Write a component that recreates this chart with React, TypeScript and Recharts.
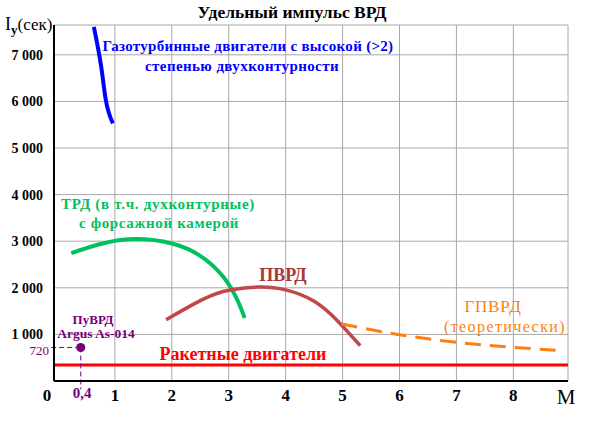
import { LineChart, Line, XAxis, YAxis, CartesianGrid, ReferenceLine, Scatter } from "recharts";

// Mach number M vs specific impulse Iу (s)
const turbofanHigh = [
  { x: 0.63, y: 7600 },
  { x: 0.76, y: 6740 },
  { x: 0.84, y: 6030 },
  { x: 0.965, y: 5530 },
];

const turbojetAb = [
  { x: 0.234, y: 2745 },
  { x: 0.8, y: 2955 },
  { x: 1.376, y: 3045 },
  { x: 2.0, y: 2950 },
  { x: 2.5, y: 2685 },
  { x: 2.9, y: 2240 },
  { x: 3.15, y: 1740 },
  { x: 3.28, y: 1352 },
];

const ramjet = [
  { x: 1.9, y: 1316 },
  { x: 2.4, y: 1660 },
  { x: 2.9, y: 1920 },
  { x: 3.5, y: 2015 },
  { x: 4.0, y: 1955 },
  { x: 4.5, y: 1712 },
  { x: 4.9, y: 1305 },
  { x: 5.31, y: 758 },
];

const scramjet = [
  { x: 4.98, y: 1223 },
  { x: 6.0, y: 994 },
  { x: 7.01, y: 829 },
  { x: 8.0, y: 722 },
  { x: 8.87, y: 651 },
];

const pulsejet = [{ x: 0.4, y: 720 }];
const rocketImpulse = 345;

const machTicks = [1, 2, 3, 4, 5, 6, 7, 8];
const impulseTicks = [1000, 2000, 3000, 4000, 5000, 6000, 7000];

const SERIF = "'Liberation Serif', serif";
const PURPLE = "#7a007a";

const fmtImpulse = (v: number) => `${Math.floor(v / 1000)} 000`;

const bold = { fontFamily: SERIF, fontWeight: 700 } as const;
const plain = { fontFamily: SERIF, fontWeight: 400 } as const;

export default function App() {
  return (
    <div style={{ position: "absolute", left: 0, top: 0, width: 600, height: 424, background: "#fff" }}>
      <LineChart
        width={600}
        height={424}
        margin={{ top: 25, right: 32, left: 0, bottom: 0 }}
        style={{ fontFamily: SERIF }}
      >
        <CartesianGrid stroke="#a8a8a8" strokeWidth={1} />
        <XAxis
          type="number"
          dataKey="x"
          domain={[-0.07, 8.96]}
          ticks={machTicks}
          height={43}
          tickSize={0}
          tickMargin={8}
          axisLine={{ stroke: "#000", strokeWidth: 2 }}
          tick={{ fill: "#000", fontSize: 17, style: bold }}
          allowDataOverflow
        />
        <XAxis xAxisId="top" type="number" orientation="top" domain={[-0.07, 8.96]} height={0} tick={false} tickLine={false} axisLine={{ stroke: "#000", strokeWidth: 2 }} />
        <YAxis
          type="number"
          dataKey="y"
          domain={[0, 7640]}
          ticks={impulseTicks}
          width={54}
          tickSize={0}
          tickMargin={11}
          tickFormatter={fmtImpulse}
          axisLine={{ stroke: "#000", strokeWidth: 2 }}
          tick={{ fill: "#000", fontSize: 14, style: bold }}
          allowDataOverflow
        />
        <YAxis yAxisId="right" orientation="right" domain={[0, 7640]} width={0} tick={false} tickLine={false} axisLine={{ stroke: "#000", strokeWidth: 2 }} />

        <ReferenceLine y={rocketImpulse} stroke="#ff0000" strokeWidth={3} />
        <ReferenceLine
          segment={[{ x: -0.12, y: pulsejet[0].y }, { x: pulsejet[0].x, y: pulsejet[0].y }]}
          stroke={PURPLE}
          strokeWidth={1}
          strokeDasharray="5 3"
          ifOverflow="visible"
        />
        <ReferenceLine
          segment={[{ x: pulsejet[0].x, y: pulsejet[0].y }, { x: pulsejet[0].x, y: -180 }]}
          stroke={PURPLE}
          strokeWidth={1}
          strokeDasharray="5 3"
          ifOverflow="visible"
        />

        <Line data={turbofanHigh} dataKey="y" type="monotone" stroke="#0000ff" strokeWidth={4} dot={false} isAnimationActive={false} />
        <Line data={turbojetAb} dataKey="y" type="natural" stroke="#00c060" strokeWidth={4} dot={false} isAnimationActive={false} />
        <Line data={ramjet} dataKey="y" type="natural" stroke="#c04848" strokeWidth={3.5} dot={false} isAnimationActive={false} />
        <Line data={scramjet} dataKey="y" type="monotone" stroke="#ff7f10" strokeWidth={3} strokeDasharray="16 9" dot={false} isAnimationActive={false} />
        <Scatter data={pulsejet} dataKey="y" fill={PURPLE} shape="circle" isAnimationActive={false} />
      </LineChart>

      <svg width={600} height={424} style={{ position: "absolute", left: 0, top: 0, pointerEvents: "none" }}>
        <text x={292} y={18} textAnchor="middle" fontSize={17.5} fill="#000" style={bold}>Удельный импульс ВРД</text>
        <text x={5} y={30} fontSize={18} fill="#000" style={plain}>
          I<tspan fontSize={13} dy={4} style={bold}>у</tspan><tspan fontSize={17} dy={-4}>(сек)</tspan>
        </text>
        <text x={47} y={401} textAnchor="middle" fontSize={17} fill="#000" style={bold}>0</text>
        <text x={566} y={404} textAnchor="middle" fontSize={21} fill="#000" style={plain}>M</text>

        <text x={248} y={51} textAnchor="middle" fontSize={15} letterSpacing={0.3} fill="#0000ff" style={bold}>Газотурбинные двигатели с высокой (&gt;2)</text>
        <text x={242} y={71} textAnchor="middle" fontSize={15} letterSpacing={0.4} fill="#0000ff" style={bold}>степенью двухконтурности</text>

        <text x={158} y={209} textAnchor="middle" fontSize={15} letterSpacing={0.7} fill="#00c060" style={bold}>ТРД (в т.ч. духконтурные)</text>
        <text x={159} y={228} textAnchor="middle" fontSize={15} letterSpacing={0.65} fill="#00c060" style={bold}>с форсажной камерой</text>

        <text x={283} y={281} textAnchor="middle" fontSize={18} fill="#a83838" style={bold}>ПВРД</text>

        <text x={243} y={360} textAnchor="middle" fontSize={18} fill="#ff0000" style={bold}>Ракетные двигатели</text>

        <text x={493} y={312} textAnchor="middle" fontSize={17} letterSpacing={0.8} fill="#ff7f10" style={plain}>ГПВРД</text>
        <text x={505} y={332} textAnchor="middle" fontSize={16} letterSpacing={1.4} fill="#ff7f10" style={plain}>(теоретически)</text>

        <text x={93} y={324} textAnchor="middle" fontSize={13} fill={PURPLE} style={bold}>ПуВРД</text>
        <text x={96} y={338} textAnchor="middle" fontSize={13.5} fill={PURPLE} style={bold}>Argus As-014</text>
        <text x={49} y={355} textAnchor="end" fontSize={13} fill={PURPLE} style={plain}>720</text>
        <text x={82} y={398} textAnchor="middle" fontSize={15} fill={PURPLE} style={bold}>0,4</text>
      </svg>
    </div>
  );
}
